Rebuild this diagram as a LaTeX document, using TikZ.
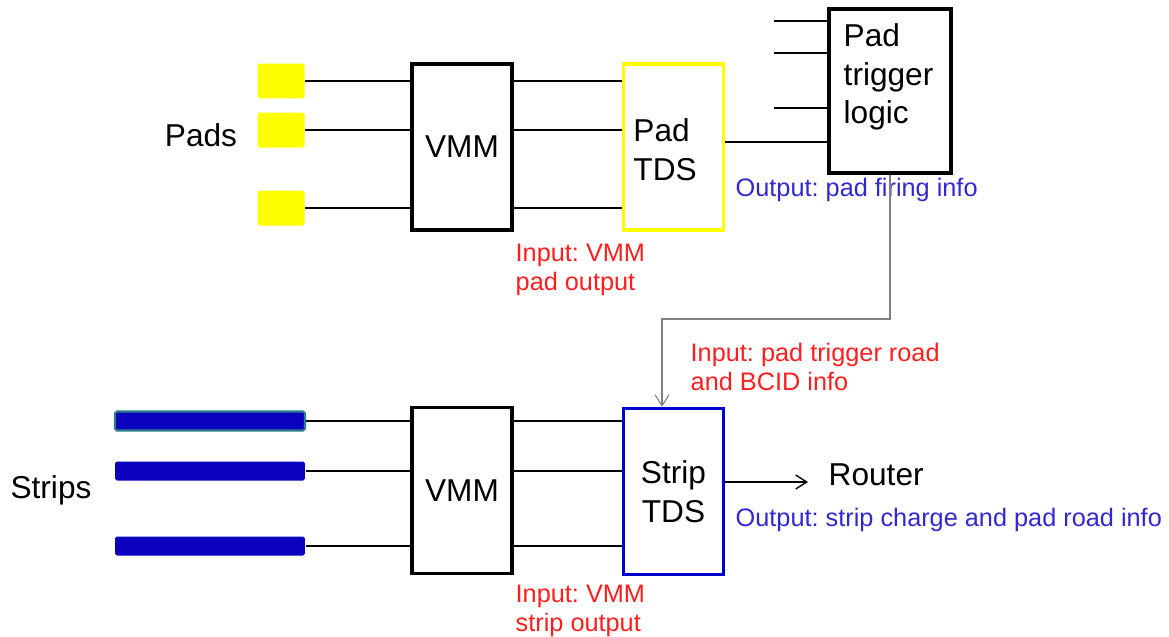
\documentclass[tikz,border=0pt]{standalone}
\usepackage{fontspec}
\setmainfont{Liberation Sans}
\usetikzlibrary{shapes,arrows.meta,positioning}
\definecolor{padyellow}{RGB}{255,255,0}
\definecolor{stripblue}{RGB}{10,0,190}
\definecolor{stripedge}{RGB}{46,125,140}
\definecolor{tdsblue}{RGB}{0,0,204}
\definecolor{inred}{RGB}{255,30,30}
\definecolor{outblue}{RGB}{50,40,210}
\frenchspacing

\begin{document}
\begin{tikzpicture}[x=0.02cm, y=-0.02cm, >={Straight Barb[length=2.2mm,width=2.8mm]}, line width=0.8pt]
    % Styles
    \tikzstyle{block} = [rectangle, draw, line width=2pt, minimum width=2cm, minimum height=3.32cm, inner sep=0pt, font=\fontsize{18}{22}\selectfont, align=center]
    \tikzstyle{pad} = [rectangle, fill=padyellow, rounded corners=1pt, minimum width=0.94cm, minimum height=0.7cm, inner sep=0pt]
    \tikzstyle{strip} = [rectangle, fill=stripblue, rounded corners=1pt, minimum width=3.8cm, minimum height=0.38cm, inner sep=0pt]
    \tikzstyle{big} = [font=\fontsize{18}{22}\selectfont, inner sep=0pt]
    \tikzstyle{note} = [font=\fontsize{14.4}{17}\selectfont, align=left, anchor=north west, inner sep=0pt]

    \useasboundingbox (0,0) rectangle (1169,636);

    % Nodes
    \node [pad] (padA) at (281,81) {};
    \node [pad] (padB) at (281,130) {};
    \node [pad] (padC) at (281,208) {};
    \node [big] (pads) at (201,135) {Pads};
    \node [block] (vmmTop) at (462,147) {VMM};
    \node [block, draw=padyellow, right=2.16cm of vmmTop, text width=1.6cm, align=left] (tdsPad) {\\[-6pt]Pad\\TDS};
    \node [block, minimum width=2.44cm, minimum height=3.28cm] (trig) at (890,91) {};
    \node [big, anchor=north west, align=left] (trigText) at (843,23) {Pad\\trigger\\logic};

    \node [strip, draw=stripedge, line width=1.2pt] (stripA) at (210,421) {};
    \node [strip] (stripB) at (210,471) {};
    \node [strip] (stripC) at (210,546) {};
    \node [big] (strips) at (51,490) {Strips};
    \node [block, below=3.48cm of vmmTop] (vmmBot) {VMM};
    \node [block, draw=tdsblue, below=3.5cm of tdsPad] (tdsStrip) {Strip\\TDS};
    \node [big, anchor=west] (router) at (828,475) {Router};

    % Notes
    \node [note, text=inred] (inPad) at (515,243) {Input: VMM\\pad output};
    \node [note, text=outblue] (outPad) at (735,177) {Output: pad firing info};
    \node [note, text=inred] (inTrig) at (690,342) {Input: pad trigger road\\and BCID info};
    \node [note, text=outblue] (outStrip) at (735,507) {Output: strip charge and pad road info};
    \node [note, text=inred] (inStrip) at (515,584) {Input: VMM\\strip output};

    % Edges
    \foreach \p in {padA,padB,padC} {
        \draw (\p.east) -- (\p.east -| vmmTop.west);
        \draw (vmmTop.east |- \p.east) -- (tdsPad.west |- \p.east);
    }
    \foreach \s in {stripA,stripB,stripC} {
        \draw (\s.east) -- (\s.east -| vmmBot.west);
        \draw (vmmBot.east |- \s.east) -- (tdsStrip.west |- \s.east);
    }

    % Trigger logic inputs
    \coordinate (trigInA) at (774,21);
    \coordinate (trigInB) at (774,53);
    \coordinate (trigInC) at (774,108);
    \foreach \c in {trigInA,trigInB,trigInC}
        \draw (\c) -- (\c -| trig.west);
    \coordinate (tdsPadOut) at ([yshift=0.1cm]tdsPad.east);
    \draw (tdsPadOut) -- (tdsPadOut -| trig.west);

    % Road info down to the strip TDS
    \coordinate (roadBend) at (662,319);
    \draw [->, gray, line width=0.6pt] (trig.south) |- (roadBend) -- (roadBend |- tdsStrip.north);

    % Out to the router
    \coordinate (routerIn) at (808,482);
    \draw [->] (tdsStrip.east |- routerIn) -- (routerIn);

\end{tikzpicture}
\end{document}
